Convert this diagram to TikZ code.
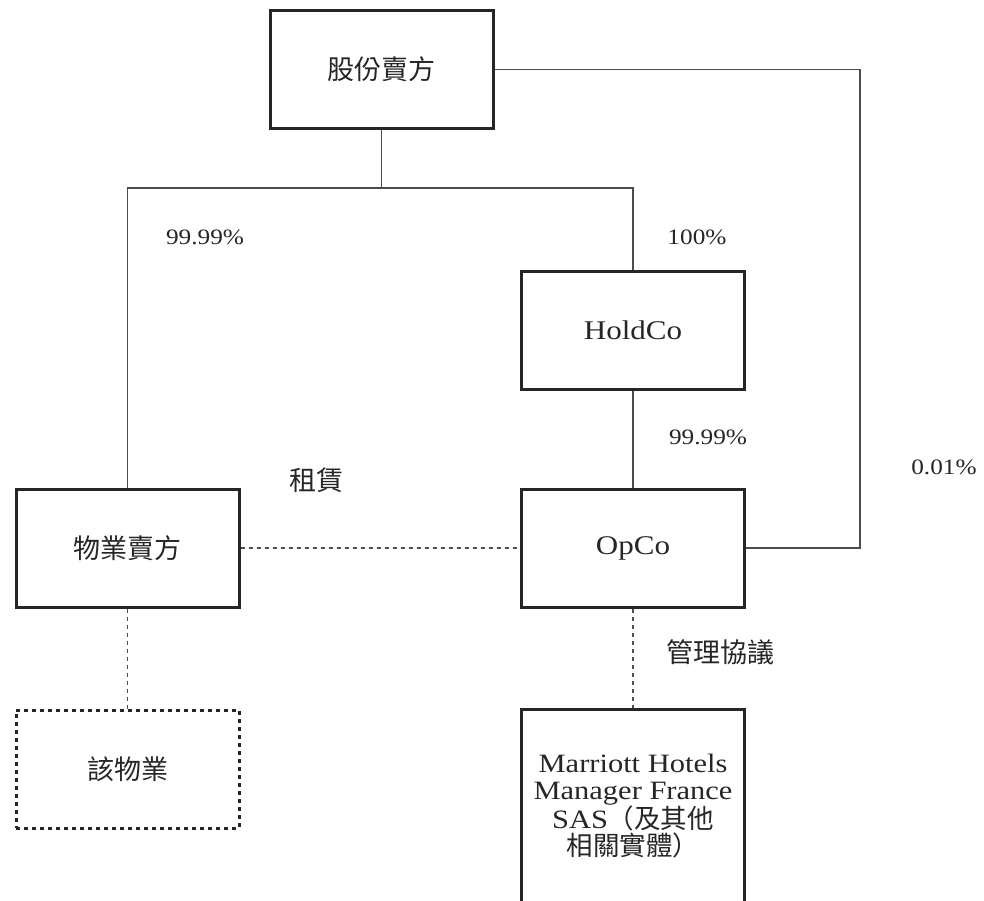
\documentclass[tikz,border=0pt]{standalone}
\usepackage{fontspec}
\setmainfont[FakeStretch=1.15]{Liberation Serif}
\newfontfamily\cjk{Noto Sans CJK TC}
\begin{document}
\begin{tikzpicture}[x=1pt,y=-1pt,
  box/.style={draw=black!85, line width=3pt, minimum width=223pt, minimum height=118pt, inner sep=0pt, align=center, font=\fontsize{27}{27}\selectfont, text=black!85},
  dbox/.style={box, dash pattern=on 4pt off 4pt},
  conn/.style={draw=black!70, line width=1.3pt},
  dconn/.style={conn, dash pattern=on 4pt off 4pt},
  lab/.style={font=\fontsize{22}{24}\selectfont, text=black!85, inner sep=0pt},
  clab/.style={font=\fontsize{27}{27}\selectfont\cjk, text=black!85, inner sep=0pt}]
\useasboundingbox (0,0) rectangle (984,900);
\fill[white] (0,0) rectangle (984,900);

\node[box] (ss) at (381.5,69.5) {\cjk 股份賣方};
\node[box] (ho) at (633,330.5) {HoldCo};
\node[box] (ps) at (127.5,548) {\cjk 物業賣方};
\node[box] (op) at (633,548) {OpCo};
\node[dbox] (pr) at (127.5,769) {\cjk 該物業};
\node[box, minimum height=193pt, font=\fontsize{26.5}{27}\selectfont] (mh) at (633,806) {Marriott Hotels\\Manager France\\SAS{\cjk （及其他}\\{\cjk 相關實體）}};

\coordinate (j) at (381.5,188);
\coordinate (r) at (860,0);
\draw[conn] (ss.south) -- (j);
\draw[conn] (j) -| (ps.north);
\draw[conn] (j) -| (ho.north);
\draw[conn] (ho.south) -- (op.north);
\draw[conn] (ss.east) -- (ss.east -| r) -- (op.east -| r) -- (op.east);
\draw[dconn] (ps.east) -- (op.west);
\draw[dconn] (ps.south) -- (pr.north);
\draw[dconn] (op.south) -- (mh.north);

\node[lab] (l1) at (205,237) {99.99\%};
\node[lab] (l2) at (697,237) {100\%};
\node[lab] (l3) at (708,437) {99.99\%};
\node[lab] (l4) at (944,467) {0.01\%};
\node[clab] (l5) at (316,480) {租賃};
\node[clab] (l6) at (720,652) {管理協議};
\end{tikzpicture}
\end{document}
